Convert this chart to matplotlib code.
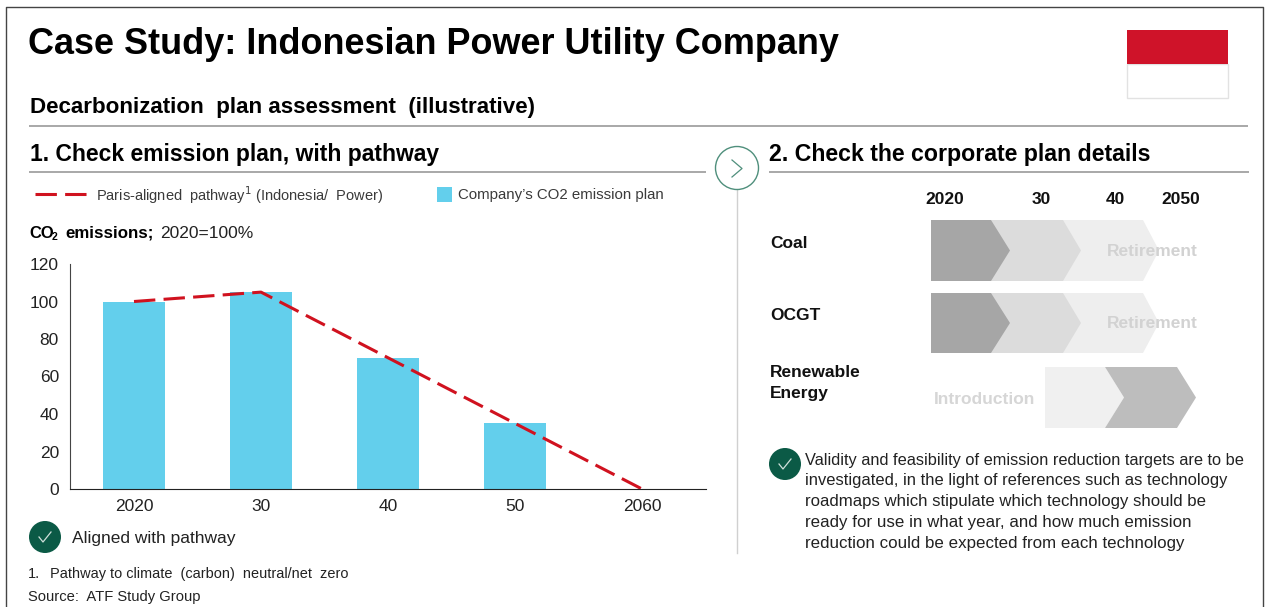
import matplotlib
matplotlib.use('Agg')
import matplotlib.pyplot as plt
from matplotlib.patches import Polygon, Rectangle, Circle

plt.rcParams['font.family'] = ['Liberation Sans', 'DejaVu Sans']

W, H = 1267, 607

# chart data
years = ['2020', '30', '40', '50', '2060']
plan = [100, 105, 70, 35, 0]
pathway = [100, 105, 70, 35, 0]
y_ticks = [0, 20, 40, 60, 80, 100, 120]

# right panel
timeline = ['2020', '30', '40', '2050']
tech_rows = ['Coal', 'OCGT', 'Renewable\nEnergy']
note_lines = ['Validity and feasibility of emission reduction targets are to be',
              'investigated, in the light of references such as technology',
              'roadmaps which stipulate which technology should be',
              'ready for use in what year, and how much emission',
              'reduction could be expected from each technology']
note_sizes = [11.82, 11.93, 12.1, 12.17, 12.12]

BLUE = '#63cfec'
RED = '#d0121f'
GREEN = '#0b5a46'
TEXT = '#222222'

fig = plt.figure(figsize=(W / 100, H / 100), dpi=100)

# overlay in pixel coords, y down
bg = fig.add_axes([0, 0, 1, 1])
bg.set_xlim(0, W)
bg.set_ylim(H, 0)
bg.axis('off')


def hline(x0, x1, y, color='#a8a8a8', lw=1.4):
    bg.plot([x0, x1], [y, y], color=color, lw=lw, solid_capstyle='butt')


def chevron(x0, x1, tip, top, bot, color, z=1):
    bg.add_patch(Polygon([(x0, top), (x1, top), (tip, (top + bot) / 2), (x1, bot), (x0, bot)],
                         closed=True, fc=color, ec='none', zorder=z))


def check_badge(cx, cy, r):
    bg.add_patch(Circle((cx, cy), r, fc=GREEN, ec='none'))
    bg.plot([cx - 6, cx - 2, cx + 6], [cy, cy + 5, cy - 5], color='#cfe0da', lw=0.9)


# outer frame (no bottom edge)
bg.plot([6, 6, 1263, 1263], [607, 7, 7, 607], color='#444444', lw=1.0)

bg.text(28, 44, 'Case Study: Indonesian Power Utility Company', fontsize=25.95, fontweight='bold',
        color='black', va='center', ha='left')
bg.text(30, 108, 'Decarbonization  plan assessment  (illustrative)', fontsize=16.1, fontweight='bold',
        color='black', va='center', ha='left')
hline(29, 1248, 126)

# flag
bg.add_patch(Rectangle((1127, 64), 101, 34, fc='white', ec='#e2e2e2', lw=1))
bg.add_patch(Rectangle((1127, 30), 101, 34, fc='#cf1329', ec='none'))

# section heads
bg.text(30, 155, '1. Check emission plan, with pathway', fontsize=16.5, fontweight='bold',
        color='black', va='center', ha='left')
hline(29, 706, 172)
bg.text(769, 155, '2. Check the corporate plan details', fontsize=16.65, fontweight='bold',
        color='black', va='center', ha='left')
hline(769, 1249, 172)

# divider and arrow circle
bg.plot([737, 737], [190, 553], color='#d0d0d0', lw=1.0)
bg.add_patch(Circle((737, 168), 21.5, fc='white', ec='#4f8f7c', lw=1.0, zorder=3))
bg.plot([732, 742, 732], [160, 168.5, 177], color='#4f8f7c', lw=0.9, zorder=4)

# legend
bg.plot([35, 88], [194, 194], color=RED, lw=2.2, dashes=(7, 2.7))
bg.text(96, 195.5, 'Paris-aligned  pathway$^{1}$ (Indonesia/  Power)', fontsize=10.5, color='#3a3a3a',
        va='center', ha='left', math_fontfamily='custom')
bg.add_patch(Rectangle((437, 187), 15, 15, fc=BLUE, ec='none'))
bg.text(458, 195.5, 'Company\u2019s CO2 emission plan', fontsize=10.85, color='#3a3a3a', va='center', ha='left')

# unit label
bg.text(29, 233, 'CO', fontsize=12, fontweight='bold', color='black', va='center', ha='left')
bg.text(52, 237, '2', fontsize=7.5, fontweight='bold', color='black', va='center', ha='left')
bg.text(65, 233, 'emissions;', fontsize=12.2, fontweight='bold', color='black', va='center', ha='left')
bg.text(160, 233, '2020=100%', fontsize=12.5, color=TEXT, va='center', ha='left')

# bar chart
ax = fig.add_axes([70 / W, 1 - 489 / H, (706 - 70) / W, (489 - 264) / H])
ax.patch.set_alpha(0)
xs = list(range(len(years)))
ax.bar(xs, plan, width=62 / 127, color=BLUE, zorder=1)
ax.plot(xs, pathway, color=RED, lw=2.2, dashes=(7, 2.7), zorder=2)
ax.set_xlim(-64 / 127, 4 + 64 / 127)
ax.set_ylim(0, 120)
ax.set_xticks(xs)
ax.set_xticklabels(years)
ax.set_yticks(y_ticks)
ax.tick_params(length=0, labelsize=12.5, labelcolor=TEXT, pad=7)
ax.tick_params(axis='y', pad=8)
ax.spines['top'].set_visible(False)
ax.spines['right'].set_visible(False)
ax.spines['left'].set_color('#444444')
ax.spines['bottom'].set_color('#222222')

# aligned badge and footnotes
check_badge(45, 537, 16)
bg.text(72, 538, 'Aligned with pathway', fontsize=12.5, color=TEXT, va='center', ha='left')
bg.text(28, 574, '1.', fontsize=10.5, color=TEXT, va='center', ha='left')
bg.text(50, 574, 'Pathway to climate  (carbon)  neutral/net  zero', fontsize=10.47, color=TEXT, va='center', ha='left')
bg.text(28, 597, 'Source:  ATF Study Group', fontsize=10.6, color=TEXT, va='center', ha='left')

# timeline
for lab, x, y in zip(timeline, [945, 1041, 1115, 1181], [200, 200, 200, 199]):
    bg.text(x, y, lab, fontsize=12.5, fontweight='bold', color='#111111', va='center', ha='center')

bg.text(770, 244, tech_rows[0], fontsize=12.5, fontweight='bold', color='#111111', va='center', ha='left')
bg.text(770, 316, tech_rows[1], fontsize=12.5, fontweight='bold', color='#111111', va='center', ha='left')
bg.text(770, 383, tech_rows[2], fontsize=12.5, fontweight='bold', color='#111111', va='center', ha='left',
        linespacing=1.5)

# chevrons: draw back to front
for top, bot in [(220, 281), (293, 353)]:
    chevron(1063, 1143, 1159, top, bot, '#eeeeee', 1)
    chevron(991, 1063, 1081, top, bot, '#dcdcdc', 2)
    chevron(931, 991, 1010, top, bot, '#a6a6a6', 3)
    bg.text(1152, (top + bot) / 2 + 1, 'Retirement', fontsize=12.5, fontweight='bold', color='#d2d2d2',
            va='center', ha='center', zorder=5)

chevron(1045, 1105, 1124, 367, 428, '#f0f0f0', 1)
bg.add_patch(Polygon([(1105, 367), (1177, 367), (1196, 397.5), (1177, 428), (1105, 428), (1124, 397.5)],
                     closed=True, fc='#bdbdbd', ec='none', zorder=2))
bg.text(985, 399, 'Introduction', fontsize=12.5, fontweight='bold', color='#d6d6d6', va='center', ha='center')

# note
check_badge(785, 464, 16)
for i, line in enumerate(note_lines):
    bg.text(805, 460 + i * 20.8, line, fontsize=note_sizes[i], color=TEXT, va='center', ha='left')

fig.savefig('out.png', dpi=100, facecolor='white')
